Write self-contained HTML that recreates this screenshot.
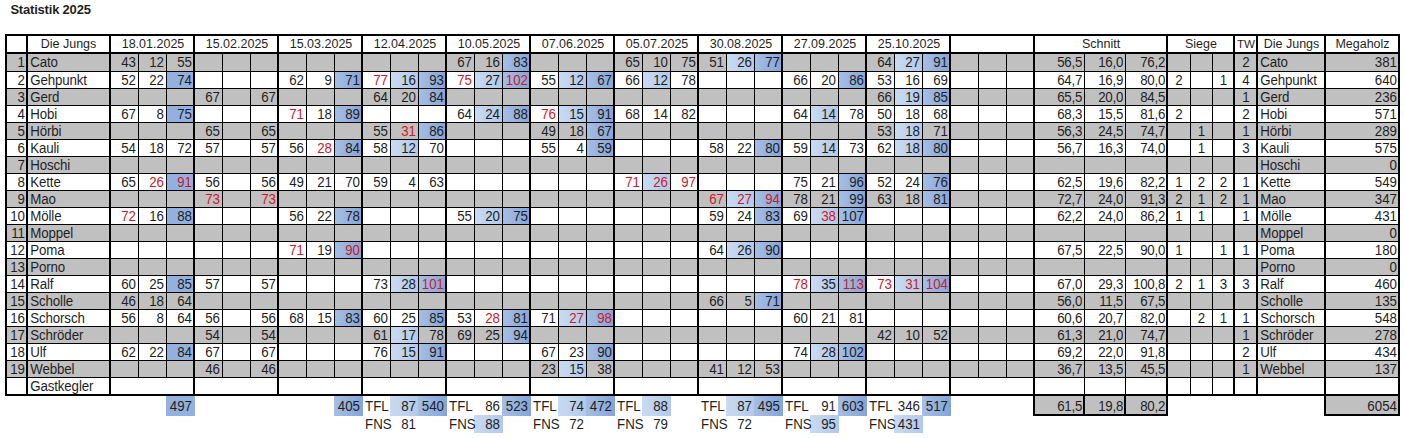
<!DOCTYPE html>
<html lang="de"><head><meta charset="utf-8"><title>Statistik 2025</title>
<style>
html,body{margin:0;padding:0;background:#fff}
body{width:1404px;height:438px;overflow:hidden;position:relative;font-family:"Liberation Sans",sans-serif;font-size:13.33px;color:#1f1f1f}
#s{position:absolute;left:0;top:0;width:1404px;height:438px;overflow:hidden}
#s div{position:absolute}
.g{background:#c0c0c0}
.bf{background:#93b1df}
.b{background:linear-gradient(90deg,#a5bee4,#84a4d7)}
.l{background:linear-gradient(90deg,#c9dbf2,#b2c9e9)}
.k{background:#000}
.t{white-space:nowrap;overflow:visible;transform:scaleY(1.06);transform-origin:0 13px}
.t.ar{text-align:right}
.t.ac{text-align:center}
.t.al{text-align:left}
.t.h{text-align:center;font-size:12.5px;transform:none}
.n{letter-spacing:-0.15px;padding-left:0.3px}
.d{letter-spacing:-0.3px}
.red{color:#cf1a28}
#ttl{left:10.4px;top:1px;height:18px;line-height:18px;font-weight:bold;font-size:13px;letter-spacing:-0.2px;white-space:nowrap}
</style></head>
<body><div id="s">
<div id="ttl">Statistik 2025</div>
<div class="g" style="left:7px;top:54px;width:1391px;height:18px"></div>
<div class="g" style="left:7px;top:89px;width:1391px;height:17px"></div>
<div class="g" style="left:7px;top:123px;width:1391px;height:17px"></div>
<div class="g" style="left:7px;top:157px;width:1391px;height:17px"></div>
<div class="g" style="left:7px;top:191px;width:1391px;height:17px"></div>
<div class="g" style="left:7px;top:225px;width:1391px;height:17px"></div>
<div class="g" style="left:7px;top:259px;width:1391px;height:17px"></div>
<div class="g" style="left:7px;top:293px;width:1391px;height:17px"></div>
<div class="g" style="left:7px;top:327px;width:1391px;height:17px"></div>
<div class="g" style="left:7px;top:361px;width:1391px;height:17px"></div>
<div class="bf" style="left:167px;top:72px;width:28px;height:17px"></div>
<div class="bf" style="left:167px;top:106px;width:28px;height:17px"></div>
<div class="bf" style="left:167px;top:174px;width:28px;height:17px"></div>
<div class="bf" style="left:167px;top:208px;width:28px;height:17px"></div>
<div class="bf" style="left:167px;top:276px;width:28px;height:17px"></div>
<div class="bf" style="left:167px;top:344px;width:28px;height:17px"></div>
<div class="bf" style="left:166px;top:396px;width:29px;height:20px"></div>
<div class="b" style="left:335px;top:72px;width:28px;height:17px"></div>
<div class="b" style="left:335px;top:106px;width:28px;height:17px"></div>
<div class="b" style="left:335px;top:140px;width:28px;height:17px"></div>
<div class="b" style="left:335px;top:208px;width:28px;height:17px"></div>
<div class="b" style="left:335px;top:242px;width:28px;height:17px"></div>
<div class="b" style="left:335px;top:310px;width:28px;height:17px"></div>
<div class="b" style="left:334px;top:396px;width:29px;height:20px"></div>
<div class="l" style="left:391px;top:72px;width:28px;height:17px"></div>
<div class="b" style="left:419px;top:72px;width:28px;height:17px"></div>
<div class="b" style="left:419px;top:89px;width:28px;height:17px"></div>
<div class="b" style="left:419px;top:123px;width:28px;height:17px"></div>
<div class="l" style="left:391px;top:140px;width:28px;height:17px"></div>
<div class="l" style="left:391px;top:276px;width:28px;height:17px"></div>
<div class="b" style="left:419px;top:276px;width:28px;height:17px"></div>
<div class="b" style="left:419px;top:310px;width:28px;height:17px"></div>
<div class="l" style="left:391px;top:327px;width:28px;height:17px"></div>
<div class="l" style="left:391px;top:344px;width:28px;height:17px"></div>
<div class="b" style="left:419px;top:344px;width:28px;height:17px"></div>
<div class="l" style="left:390px;top:396px;width:29px;height:20px"></div>
<div class="b" style="left:418px;top:396px;width:29px;height:20px"></div>
<div class="b" style="left:503px;top:54px;width:28px;height:18px"></div>
<div class="l" style="left:475px;top:72px;width:28px;height:17px"></div>
<div class="b" style="left:503px;top:72px;width:28px;height:17px"></div>
<div class="l" style="left:475px;top:106px;width:28px;height:17px"></div>
<div class="b" style="left:503px;top:106px;width:28px;height:17px"></div>
<div class="l" style="left:475px;top:208px;width:28px;height:17px"></div>
<div class="b" style="left:503px;top:208px;width:28px;height:17px"></div>
<div class="b" style="left:503px;top:310px;width:28px;height:17px"></div>
<div class="b" style="left:503px;top:327px;width:28px;height:17px"></div>
<div class="b" style="left:502px;top:396px;width:29px;height:20px"></div>
<div class="l" style="left:474px;top:415px;width:29px;height:18px"></div>
<div class="l" style="left:559px;top:72px;width:28px;height:17px"></div>
<div class="b" style="left:587px;top:72px;width:28px;height:17px"></div>
<div class="l" style="left:559px;top:106px;width:28px;height:17px"></div>
<div class="b" style="left:587px;top:106px;width:28px;height:17px"></div>
<div class="b" style="left:587px;top:123px;width:28px;height:17px"></div>
<div class="b" style="left:587px;top:140px;width:28px;height:17px"></div>
<div class="l" style="left:559px;top:310px;width:28px;height:17px"></div>
<div class="b" style="left:587px;top:310px;width:28px;height:17px"></div>
<div class="b" style="left:587px;top:344px;width:28px;height:17px"></div>
<div class="l" style="left:559px;top:361px;width:28px;height:17px"></div>
<div class="l" style="left:558px;top:396px;width:29px;height:20px"></div>
<div class="b" style="left:586px;top:396px;width:29px;height:20px"></div>
<div class="l" style="left:643px;top:72px;width:28px;height:17px"></div>
<div class="l" style="left:643px;top:174px;width:28px;height:17px"></div>
<div class="l" style="left:642px;top:396px;width:29px;height:20px"></div>
<div class="l" style="left:727px;top:54px;width:28px;height:18px"></div>
<div class="b" style="left:755px;top:54px;width:28px;height:18px"></div>
<div class="b" style="left:755px;top:140px;width:28px;height:17px"></div>
<div class="l" style="left:727px;top:191px;width:28px;height:17px"></div>
<div class="b" style="left:755px;top:191px;width:28px;height:17px"></div>
<div class="b" style="left:755px;top:208px;width:28px;height:17px"></div>
<div class="l" style="left:727px;top:242px;width:28px;height:17px"></div>
<div class="b" style="left:755px;top:242px;width:28px;height:17px"></div>
<div class="b" style="left:755px;top:293px;width:28px;height:17px"></div>
<div class="l" style="left:726px;top:396px;width:29px;height:20px"></div>
<div class="b" style="left:754px;top:396px;width:29px;height:20px"></div>
<div class="b" style="left:839px;top:72px;width:28px;height:17px"></div>
<div class="l" style="left:811px;top:106px;width:28px;height:17px"></div>
<div class="l" style="left:811px;top:140px;width:28px;height:17px"></div>
<div class="b" style="left:839px;top:174px;width:28px;height:17px"></div>
<div class="b" style="left:839px;top:191px;width:28px;height:17px"></div>
<div class="l" style="left:811px;top:208px;width:28px;height:17px"></div>
<div class="b" style="left:839px;top:208px;width:28px;height:17px"></div>
<div class="l" style="left:811px;top:276px;width:28px;height:17px"></div>
<div class="b" style="left:839px;top:276px;width:28px;height:17px"></div>
<div class="l" style="left:811px;top:344px;width:28px;height:17px"></div>
<div class="b" style="left:839px;top:344px;width:28px;height:17px"></div>
<div class="b" style="left:838px;top:396px;width:29px;height:20px"></div>
<div class="l" style="left:810px;top:415px;width:29px;height:18px"></div>
<div class="l" style="left:895px;top:54px;width:28px;height:18px"></div>
<div class="b" style="left:923px;top:54px;width:28px;height:18px"></div>
<div class="l" style="left:895px;top:89px;width:28px;height:17px"></div>
<div class="b" style="left:923px;top:89px;width:28px;height:17px"></div>
<div class="l" style="left:895px;top:123px;width:28px;height:17px"></div>
<div class="l" style="left:895px;top:140px;width:28px;height:17px"></div>
<div class="b" style="left:923px;top:140px;width:28px;height:17px"></div>
<div class="b" style="left:923px;top:174px;width:28px;height:17px"></div>
<div class="b" style="left:923px;top:191px;width:28px;height:17px"></div>
<div class="l" style="left:895px;top:276px;width:28px;height:17px"></div>
<div class="b" style="left:923px;top:276px;width:28px;height:17px"></div>
<div class="b" style="left:922px;top:396px;width:29px;height:20px"></div>
<div class="l" style="left:894px;top:415px;width:29px;height:18px"></div>
<div class="g" style="left:1035px;top:396px;width:131px;height:18px"></div>
<div class="g" style="left:1326px;top:396px;width:72px;height:18px"></div>
<div class="k" style="left:7px;top:71px;width:1391px;height:1px"></div>
<div class="k" style="left:7px;top:88px;width:1391px;height:1px"></div>
<div class="k" style="left:7px;top:105px;width:1391px;height:1px"></div>
<div class="k" style="left:7px;top:122px;width:1391px;height:1px"></div>
<div class="k" style="left:7px;top:139px;width:1391px;height:1px"></div>
<div class="k" style="left:7px;top:156px;width:1391px;height:1px"></div>
<div class="k" style="left:7px;top:173px;width:1391px;height:1px"></div>
<div class="k" style="left:7px;top:190px;width:1391px;height:1px"></div>
<div class="k" style="left:7px;top:207px;width:1391px;height:1px"></div>
<div class="k" style="left:7px;top:224px;width:1391px;height:1px"></div>
<div class="k" style="left:7px;top:241px;width:1391px;height:1px"></div>
<div class="k" style="left:7px;top:258px;width:1391px;height:1px"></div>
<div class="k" style="left:7px;top:275px;width:1391px;height:1px"></div>
<div class="k" style="left:7px;top:292px;width:1391px;height:1px"></div>
<div class="k" style="left:7px;top:309px;width:1391px;height:1px"></div>
<div class="k" style="left:7px;top:326px;width:1391px;height:1px"></div>
<div class="k" style="left:7px;top:343px;width:1391px;height:1px"></div>
<div class="k" style="left:7px;top:360px;width:1391px;height:1px"></div>
<div class="k" style="left:7px;top:377px;width:1391px;height:1px"></div>
<div class="k" style="left:5px;top:34px;width:1395px;height:2px"></div>
<div class="k" style="left:5px;top:52px;width:1395px;height:2px"></div>
<div class="k" style="left:5px;top:394px;width:1395px;height:2px"></div>
<div class="k" style="left:1033px;top:414px;width:135px;height:2px"></div>
<div class="k" style="left:1324px;top:414px;width:76px;height:2px"></div>
<div class="k" style="left:5px;top:34px;width:2px;height:362px"></div>
<div class="k" style="left:26px;top:34px;width:2px;height:362px"></div>
<div class="k" style="left:109px;top:34px;width:2px;height:362px"></div>
<div class="k" style="left:193px;top:34px;width:2px;height:362px"></div>
<div class="k" style="left:277px;top:34px;width:2px;height:362px"></div>
<div class="k" style="left:361px;top:34px;width:2px;height:362px"></div>
<div class="k" style="left:445px;top:34px;width:2px;height:362px"></div>
<div class="k" style="left:529px;top:34px;width:2px;height:362px"></div>
<div class="k" style="left:613px;top:34px;width:2px;height:362px"></div>
<div class="k" style="left:697px;top:34px;width:2px;height:362px"></div>
<div class="k" style="left:781px;top:34px;width:2px;height:362px"></div>
<div class="k" style="left:865px;top:34px;width:2px;height:362px"></div>
<div class="k" style="left:949px;top:34px;width:2px;height:362px"></div>
<div class="k" style="left:1033px;top:34px;width:2px;height:382px"></div>
<div class="k" style="left:1166px;top:34px;width:2px;height:382px"></div>
<div class="k" style="left:1233px;top:34px;width:2px;height:362px"></div>
<div class="k" style="left:1256px;top:34px;width:2px;height:362px"></div>
<div class="k" style="left:1324px;top:34px;width:2px;height:382px"></div>
<div class="k" style="left:1398px;top:34px;width:2px;height:382px"></div>
<div class="k" style="left:1083px;top:396px;width:2px;height:20px"></div>
<div class="k" style="left:1124px;top:396px;width:2px;height:20px"></div>
<div class="k" style="left:138px;top:54px;width:1px;height:324px"></div>
<div class="k" style="left:166px;top:54px;width:1px;height:324px"></div>
<div class="k" style="left:222px;top:54px;width:1px;height:324px"></div>
<div class="k" style="left:250px;top:54px;width:1px;height:324px"></div>
<div class="k" style="left:306px;top:54px;width:1px;height:324px"></div>
<div class="k" style="left:334px;top:54px;width:1px;height:324px"></div>
<div class="k" style="left:390px;top:54px;width:1px;height:324px"></div>
<div class="k" style="left:418px;top:54px;width:1px;height:324px"></div>
<div class="k" style="left:474px;top:54px;width:1px;height:324px"></div>
<div class="k" style="left:502px;top:54px;width:1px;height:324px"></div>
<div class="k" style="left:558px;top:54px;width:1px;height:324px"></div>
<div class="k" style="left:586px;top:54px;width:1px;height:324px"></div>
<div class="k" style="left:642px;top:54px;width:1px;height:324px"></div>
<div class="k" style="left:670px;top:54px;width:1px;height:324px"></div>
<div class="k" style="left:726px;top:54px;width:1px;height:324px"></div>
<div class="k" style="left:754px;top:54px;width:1px;height:324px"></div>
<div class="k" style="left:810px;top:54px;width:1px;height:324px"></div>
<div class="k" style="left:838px;top:54px;width:1px;height:324px"></div>
<div class="k" style="left:894px;top:54px;width:1px;height:324px"></div>
<div class="k" style="left:922px;top:54px;width:1px;height:324px"></div>
<div class="k" style="left:978px;top:54px;width:1px;height:324px"></div>
<div class="k" style="left:1006px;top:54px;width:1px;height:324px"></div>
<div class="k" style="left:1084px;top:54px;width:1px;height:340px"></div>
<div class="k" style="left:1125px;top:54px;width:1px;height:340px"></div>
<div class="k" style="left:1190px;top:54px;width:1px;height:340px"></div>
<div class="k" style="left:1212px;top:54px;width:1px;height:340px"></div>
<div class="t ar" style="left:111px;top:54px;width:25px;height:18px;line-height:18px">43</div>
<div class="t ar" style="left:139px;top:54px;width:25px;height:18px;line-height:18px">12</div>
<div class="t ar" style="left:167px;top:54px;width:25px;height:18px;line-height:18px">55</div>
<div class="t ar" style="left:111px;top:72px;width:25px;height:17px;line-height:17px">52</div>
<div class="t ar" style="left:139px;top:72px;width:25px;height:17px;line-height:17px">22</div>
<div class="t ar" style="left:167px;top:72px;width:25px;height:17px;line-height:17px">74</div>
<div class="t ar" style="left:111px;top:106px;width:25px;height:17px;line-height:17px">67</div>
<div class="t ar" style="left:139px;top:106px;width:25px;height:17px;line-height:17px">8</div>
<div class="t ar" style="left:167px;top:106px;width:25px;height:17px;line-height:17px">75</div>
<div class="t ar" style="left:111px;top:140px;width:25px;height:17px;line-height:17px">54</div>
<div class="t ar" style="left:139px;top:140px;width:25px;height:17px;line-height:17px">18</div>
<div class="t ar" style="left:167px;top:140px;width:25px;height:17px;line-height:17px">72</div>
<div class="t ar" style="left:111px;top:174px;width:25px;height:17px;line-height:17px">65</div>
<div class="t ar red" style="left:139px;top:174px;width:25px;height:17px;line-height:17px">26</div>
<div class="t ar red" style="left:167px;top:174px;width:25px;height:17px;line-height:17px">91</div>
<div class="t ar red" style="left:111px;top:208px;width:25px;height:17px;line-height:17px">72</div>
<div class="t ar" style="left:139px;top:208px;width:25px;height:17px;line-height:17px">16</div>
<div class="t ar" style="left:167px;top:208px;width:25px;height:17px;line-height:17px">88</div>
<div class="t ar" style="left:111px;top:276px;width:25px;height:17px;line-height:17px">60</div>
<div class="t ar" style="left:139px;top:276px;width:25px;height:17px;line-height:17px">25</div>
<div class="t ar" style="left:167px;top:276px;width:25px;height:17px;line-height:17px">85</div>
<div class="t ar" style="left:111px;top:293px;width:25px;height:17px;line-height:17px">46</div>
<div class="t ar" style="left:139px;top:293px;width:25px;height:17px;line-height:17px">18</div>
<div class="t ar" style="left:167px;top:293px;width:25px;height:17px;line-height:17px">64</div>
<div class="t ar" style="left:111px;top:310px;width:25px;height:17px;line-height:17px">56</div>
<div class="t ar" style="left:139px;top:310px;width:25px;height:17px;line-height:17px">8</div>
<div class="t ar" style="left:167px;top:310px;width:25px;height:17px;line-height:17px">64</div>
<div class="t ar" style="left:111px;top:344px;width:25px;height:17px;line-height:17px">62</div>
<div class="t ar" style="left:139px;top:344px;width:25px;height:17px;line-height:17px">22</div>
<div class="t ar" style="left:167px;top:344px;width:25px;height:17px;line-height:17px">84</div>
<div class="t ar" style="left:167px;top:397px;width:25px;height:20px;line-height:20px">497</div>
<div class="t ar" style="left:195px;top:89px;width:25px;height:17px;line-height:17px">67</div>
<div class="t ar" style="left:251px;top:89px;width:25px;height:17px;line-height:17px">67</div>
<div class="t ar" style="left:195px;top:123px;width:25px;height:17px;line-height:17px">65</div>
<div class="t ar" style="left:251px;top:123px;width:25px;height:17px;line-height:17px">65</div>
<div class="t ar" style="left:195px;top:140px;width:25px;height:17px;line-height:17px">57</div>
<div class="t ar" style="left:251px;top:140px;width:25px;height:17px;line-height:17px">57</div>
<div class="t ar" style="left:195px;top:174px;width:25px;height:17px;line-height:17px">56</div>
<div class="t ar" style="left:251px;top:174px;width:25px;height:17px;line-height:17px">56</div>
<div class="t ar red" style="left:195px;top:191px;width:25px;height:17px;line-height:17px">73</div>
<div class="t ar red" style="left:251px;top:191px;width:25px;height:17px;line-height:17px">73</div>
<div class="t ar" style="left:195px;top:276px;width:25px;height:17px;line-height:17px">57</div>
<div class="t ar" style="left:251px;top:276px;width:25px;height:17px;line-height:17px">57</div>
<div class="t ar" style="left:195px;top:310px;width:25px;height:17px;line-height:17px">56</div>
<div class="t ar" style="left:251px;top:310px;width:25px;height:17px;line-height:17px">56</div>
<div class="t ar" style="left:195px;top:327px;width:25px;height:17px;line-height:17px">54</div>
<div class="t ar" style="left:251px;top:327px;width:25px;height:17px;line-height:17px">54</div>
<div class="t ar" style="left:195px;top:344px;width:25px;height:17px;line-height:17px">67</div>
<div class="t ar" style="left:251px;top:344px;width:25px;height:17px;line-height:17px">67</div>
<div class="t ar" style="left:195px;top:361px;width:25px;height:17px;line-height:17px">46</div>
<div class="t ar" style="left:251px;top:361px;width:25px;height:17px;line-height:17px">46</div>
<div class="t ar" style="left:279px;top:72px;width:25px;height:17px;line-height:17px">62</div>
<div class="t ar" style="left:307px;top:72px;width:25px;height:17px;line-height:17px">9</div>
<div class="t ar" style="left:335px;top:72px;width:25px;height:17px;line-height:17px">71</div>
<div class="t ar red" style="left:279px;top:106px;width:25px;height:17px;line-height:17px">71</div>
<div class="t ar" style="left:307px;top:106px;width:25px;height:17px;line-height:17px">18</div>
<div class="t ar" style="left:335px;top:106px;width:25px;height:17px;line-height:17px">89</div>
<div class="t ar" style="left:279px;top:140px;width:25px;height:17px;line-height:17px">56</div>
<div class="t ar red" style="left:307px;top:140px;width:25px;height:17px;line-height:17px">28</div>
<div class="t ar" style="left:335px;top:140px;width:25px;height:17px;line-height:17px">84</div>
<div class="t ar" style="left:279px;top:174px;width:25px;height:17px;line-height:17px">49</div>
<div class="t ar" style="left:307px;top:174px;width:25px;height:17px;line-height:17px">21</div>
<div class="t ar" style="left:335px;top:174px;width:25px;height:17px;line-height:17px">70</div>
<div class="t ar" style="left:279px;top:208px;width:25px;height:17px;line-height:17px">56</div>
<div class="t ar" style="left:307px;top:208px;width:25px;height:17px;line-height:17px">22</div>
<div class="t ar" style="left:335px;top:208px;width:25px;height:17px;line-height:17px">78</div>
<div class="t ar red" style="left:279px;top:242px;width:25px;height:17px;line-height:17px">71</div>
<div class="t ar" style="left:307px;top:242px;width:25px;height:17px;line-height:17px">19</div>
<div class="t ar red" style="left:335px;top:242px;width:25px;height:17px;line-height:17px">90</div>
<div class="t ar" style="left:279px;top:310px;width:25px;height:17px;line-height:17px">68</div>
<div class="t ar" style="left:307px;top:310px;width:25px;height:17px;line-height:17px">15</div>
<div class="t ar" style="left:335px;top:310px;width:25px;height:17px;line-height:17px">83</div>
<div class="t ar" style="left:335px;top:397px;width:25px;height:20px;line-height:20px">405</div>
<div class="t ar red" style="left:363px;top:72px;width:25px;height:17px;line-height:17px">77</div>
<div class="t ar" style="left:391px;top:72px;width:25px;height:17px;line-height:17px">16</div>
<div class="t ar" style="left:419px;top:72px;width:25px;height:17px;line-height:17px">93</div>
<div class="t ar" style="left:363px;top:89px;width:25px;height:17px;line-height:17px">64</div>
<div class="t ar" style="left:391px;top:89px;width:25px;height:17px;line-height:17px">20</div>
<div class="t ar" style="left:419px;top:89px;width:25px;height:17px;line-height:17px">84</div>
<div class="t ar" style="left:363px;top:123px;width:25px;height:17px;line-height:17px">55</div>
<div class="t ar red" style="left:391px;top:123px;width:25px;height:17px;line-height:17px">31</div>
<div class="t ar" style="left:419px;top:123px;width:25px;height:17px;line-height:17px">86</div>
<div class="t ar" style="left:363px;top:140px;width:25px;height:17px;line-height:17px">58</div>
<div class="t ar" style="left:391px;top:140px;width:25px;height:17px;line-height:17px">12</div>
<div class="t ar" style="left:419px;top:140px;width:25px;height:17px;line-height:17px">70</div>
<div class="t ar" style="left:363px;top:174px;width:25px;height:17px;line-height:17px">59</div>
<div class="t ar" style="left:391px;top:174px;width:25px;height:17px;line-height:17px">4</div>
<div class="t ar" style="left:419px;top:174px;width:25px;height:17px;line-height:17px">63</div>
<div class="t ar" style="left:363px;top:276px;width:25px;height:17px;line-height:17px">73</div>
<div class="t ar" style="left:391px;top:276px;width:25px;height:17px;line-height:17px">28</div>
<div class="t ar red" style="left:419px;top:276px;width:25px;height:17px;line-height:17px">101</div>
<div class="t ar" style="left:363px;top:310px;width:25px;height:17px;line-height:17px">60</div>
<div class="t ar" style="left:391px;top:310px;width:25px;height:17px;line-height:17px">25</div>
<div class="t ar" style="left:419px;top:310px;width:25px;height:17px;line-height:17px">85</div>
<div class="t ar" style="left:363px;top:327px;width:25px;height:17px;line-height:17px">61</div>
<div class="t ar" style="left:391px;top:327px;width:25px;height:17px;line-height:17px">17</div>
<div class="t ar" style="left:419px;top:327px;width:25px;height:17px;line-height:17px">78</div>
<div class="t ar" style="left:363px;top:344px;width:25px;height:17px;line-height:17px">76</div>
<div class="t ar" style="left:391px;top:344px;width:25px;height:17px;line-height:17px">15</div>
<div class="t ar" style="left:419px;top:344px;width:25px;height:17px;line-height:17px">91</div>
<div class="t al" style="left:365px;top:397px;width:26px;height:20px;line-height:20px">TFL</div>
<div class="t ar" style="left:391px;top:397px;width:25px;height:20px;line-height:20px">87</div>
<div class="t ar" style="left:419px;top:397px;width:25px;height:20px;line-height:20px">540</div>
<div class="t al" style="left:365px;top:416px;width:26px;height:17px;line-height:17px">FNS</div>
<div class="t ar" style="left:391px;top:416px;width:25px;height:18px;line-height:18px">81</div>
<div class="t ar" style="left:447px;top:54px;width:25px;height:18px;line-height:18px">67</div>
<div class="t ar" style="left:475px;top:54px;width:25px;height:18px;line-height:18px">16</div>
<div class="t ar" style="left:503px;top:54px;width:25px;height:18px;line-height:18px">83</div>
<div class="t ar red" style="left:447px;top:72px;width:25px;height:17px;line-height:17px">75</div>
<div class="t ar" style="left:475px;top:72px;width:25px;height:17px;line-height:17px">27</div>
<div class="t ar red" style="left:503px;top:72px;width:25px;height:17px;line-height:17px">102</div>
<div class="t ar" style="left:447px;top:106px;width:25px;height:17px;line-height:17px">64</div>
<div class="t ar" style="left:475px;top:106px;width:25px;height:17px;line-height:17px">24</div>
<div class="t ar" style="left:503px;top:106px;width:25px;height:17px;line-height:17px">88</div>
<div class="t ar" style="left:447px;top:208px;width:25px;height:17px;line-height:17px">55</div>
<div class="t ar" style="left:475px;top:208px;width:25px;height:17px;line-height:17px">20</div>
<div class="t ar" style="left:503px;top:208px;width:25px;height:17px;line-height:17px">75</div>
<div class="t ar" style="left:447px;top:310px;width:25px;height:17px;line-height:17px">53</div>
<div class="t ar red" style="left:475px;top:310px;width:25px;height:17px;line-height:17px">28</div>
<div class="t ar" style="left:503px;top:310px;width:25px;height:17px;line-height:17px">81</div>
<div class="t ar" style="left:447px;top:327px;width:25px;height:17px;line-height:17px">69</div>
<div class="t ar" style="left:475px;top:327px;width:25px;height:17px;line-height:17px">25</div>
<div class="t ar" style="left:503px;top:327px;width:25px;height:17px;line-height:17px">94</div>
<div class="t al" style="left:449px;top:397px;width:26px;height:20px;line-height:20px">TFL</div>
<div class="t ar" style="left:475px;top:397px;width:25px;height:20px;line-height:20px">86</div>
<div class="t ar" style="left:503px;top:397px;width:25px;height:20px;line-height:20px">523</div>
<div class="t al" style="left:449px;top:416px;width:26px;height:17px;line-height:17px">FNS</div>
<div class="t ar" style="left:475px;top:416px;width:25px;height:18px;line-height:18px">88</div>
<div class="t ar" style="left:531px;top:72px;width:25px;height:17px;line-height:17px">55</div>
<div class="t ar" style="left:559px;top:72px;width:25px;height:17px;line-height:17px">12</div>
<div class="t ar" style="left:587px;top:72px;width:25px;height:17px;line-height:17px">67</div>
<div class="t ar red" style="left:531px;top:106px;width:25px;height:17px;line-height:17px">76</div>
<div class="t ar" style="left:559px;top:106px;width:25px;height:17px;line-height:17px">15</div>
<div class="t ar" style="left:587px;top:106px;width:25px;height:17px;line-height:17px">91</div>
<div class="t ar" style="left:531px;top:123px;width:25px;height:17px;line-height:17px">49</div>
<div class="t ar" style="left:559px;top:123px;width:25px;height:17px;line-height:17px">18</div>
<div class="t ar" style="left:587px;top:123px;width:25px;height:17px;line-height:17px">67</div>
<div class="t ar" style="left:531px;top:140px;width:25px;height:17px;line-height:17px">55</div>
<div class="t ar" style="left:559px;top:140px;width:25px;height:17px;line-height:17px">4</div>
<div class="t ar" style="left:587px;top:140px;width:25px;height:17px;line-height:17px">59</div>
<div class="t ar" style="left:531px;top:310px;width:25px;height:17px;line-height:17px">71</div>
<div class="t ar red" style="left:559px;top:310px;width:25px;height:17px;line-height:17px">27</div>
<div class="t ar red" style="left:587px;top:310px;width:25px;height:17px;line-height:17px">98</div>
<div class="t ar" style="left:531px;top:344px;width:25px;height:17px;line-height:17px">67</div>
<div class="t ar" style="left:559px;top:344px;width:25px;height:17px;line-height:17px">23</div>
<div class="t ar" style="left:587px;top:344px;width:25px;height:17px;line-height:17px">90</div>
<div class="t ar" style="left:531px;top:361px;width:25px;height:17px;line-height:17px">23</div>
<div class="t ar" style="left:559px;top:361px;width:25px;height:17px;line-height:17px">15</div>
<div class="t ar" style="left:587px;top:361px;width:25px;height:17px;line-height:17px">38</div>
<div class="t al" style="left:533px;top:397px;width:26px;height:20px;line-height:20px">TFL</div>
<div class="t ar" style="left:559px;top:397px;width:25px;height:20px;line-height:20px">74</div>
<div class="t ar" style="left:587px;top:397px;width:25px;height:20px;line-height:20px">472</div>
<div class="t al" style="left:533px;top:416px;width:26px;height:17px;line-height:17px">FNS</div>
<div class="t ar" style="left:559px;top:416px;width:25px;height:18px;line-height:18px">72</div>
<div class="t ar" style="left:615px;top:54px;width:25px;height:18px;line-height:18px">65</div>
<div class="t ar" style="left:643px;top:54px;width:25px;height:18px;line-height:18px">10</div>
<div class="t ar" style="left:671px;top:54px;width:25px;height:18px;line-height:18px">75</div>
<div class="t ar" style="left:615px;top:72px;width:25px;height:17px;line-height:17px">66</div>
<div class="t ar" style="left:643px;top:72px;width:25px;height:17px;line-height:17px">12</div>
<div class="t ar" style="left:671px;top:72px;width:25px;height:17px;line-height:17px">78</div>
<div class="t ar" style="left:615px;top:106px;width:25px;height:17px;line-height:17px">68</div>
<div class="t ar" style="left:643px;top:106px;width:25px;height:17px;line-height:17px">14</div>
<div class="t ar" style="left:671px;top:106px;width:25px;height:17px;line-height:17px">82</div>
<div class="t ar red" style="left:615px;top:174px;width:25px;height:17px;line-height:17px">71</div>
<div class="t ar red" style="left:643px;top:174px;width:25px;height:17px;line-height:17px">26</div>
<div class="t ar red" style="left:671px;top:174px;width:25px;height:17px;line-height:17px">97</div>
<div class="t al" style="left:617px;top:397px;width:26px;height:20px;line-height:20px">TFL</div>
<div class="t ar" style="left:643px;top:397px;width:25px;height:20px;line-height:20px">88</div>
<div class="t al" style="left:617px;top:416px;width:26px;height:17px;line-height:17px">FNS</div>
<div class="t ar" style="left:643px;top:416px;width:25px;height:18px;line-height:18px">79</div>
<div class="t ar" style="left:699px;top:54px;width:25px;height:18px;line-height:18px">51</div>
<div class="t ar" style="left:727px;top:54px;width:25px;height:18px;line-height:18px">26</div>
<div class="t ar" style="left:755px;top:54px;width:25px;height:18px;line-height:18px">77</div>
<div class="t ar" style="left:699px;top:140px;width:25px;height:17px;line-height:17px">58</div>
<div class="t ar" style="left:727px;top:140px;width:25px;height:17px;line-height:17px">22</div>
<div class="t ar" style="left:755px;top:140px;width:25px;height:17px;line-height:17px">80</div>
<div class="t ar red" style="left:699px;top:191px;width:25px;height:17px;line-height:17px">67</div>
<div class="t ar red" style="left:727px;top:191px;width:25px;height:17px;line-height:17px">27</div>
<div class="t ar red" style="left:755px;top:191px;width:25px;height:17px;line-height:17px">94</div>
<div class="t ar" style="left:699px;top:208px;width:25px;height:17px;line-height:17px">59</div>
<div class="t ar" style="left:727px;top:208px;width:25px;height:17px;line-height:17px">24</div>
<div class="t ar" style="left:755px;top:208px;width:25px;height:17px;line-height:17px">83</div>
<div class="t ar" style="left:699px;top:242px;width:25px;height:17px;line-height:17px">64</div>
<div class="t ar" style="left:727px;top:242px;width:25px;height:17px;line-height:17px">26</div>
<div class="t ar" style="left:755px;top:242px;width:25px;height:17px;line-height:17px">90</div>
<div class="t ar" style="left:699px;top:293px;width:25px;height:17px;line-height:17px">66</div>
<div class="t ar" style="left:727px;top:293px;width:25px;height:17px;line-height:17px">5</div>
<div class="t ar" style="left:755px;top:293px;width:25px;height:17px;line-height:17px">71</div>
<div class="t ar" style="left:699px;top:361px;width:25px;height:17px;line-height:17px">41</div>
<div class="t ar" style="left:727px;top:361px;width:25px;height:17px;line-height:17px">12</div>
<div class="t ar" style="left:755px;top:361px;width:25px;height:17px;line-height:17px">53</div>
<div class="t al" style="left:701px;top:397px;width:26px;height:20px;line-height:20px">TFL</div>
<div class="t ar" style="left:727px;top:397px;width:25px;height:20px;line-height:20px">87</div>
<div class="t ar" style="left:755px;top:397px;width:25px;height:20px;line-height:20px">495</div>
<div class="t al" style="left:701px;top:416px;width:26px;height:17px;line-height:17px">FNS</div>
<div class="t ar" style="left:727px;top:416px;width:25px;height:18px;line-height:18px">72</div>
<div class="t ar" style="left:783px;top:72px;width:25px;height:17px;line-height:17px">66</div>
<div class="t ar" style="left:811px;top:72px;width:25px;height:17px;line-height:17px">20</div>
<div class="t ar" style="left:839px;top:72px;width:25px;height:17px;line-height:17px">86</div>
<div class="t ar" style="left:783px;top:106px;width:25px;height:17px;line-height:17px">64</div>
<div class="t ar" style="left:811px;top:106px;width:25px;height:17px;line-height:17px">14</div>
<div class="t ar" style="left:839px;top:106px;width:25px;height:17px;line-height:17px">78</div>
<div class="t ar" style="left:783px;top:140px;width:25px;height:17px;line-height:17px">59</div>
<div class="t ar" style="left:811px;top:140px;width:25px;height:17px;line-height:17px">14</div>
<div class="t ar" style="left:839px;top:140px;width:25px;height:17px;line-height:17px">73</div>
<div class="t ar" style="left:783px;top:174px;width:25px;height:17px;line-height:17px">75</div>
<div class="t ar" style="left:811px;top:174px;width:25px;height:17px;line-height:17px">21</div>
<div class="t ar" style="left:839px;top:174px;width:25px;height:17px;line-height:17px">96</div>
<div class="t ar" style="left:783px;top:191px;width:25px;height:17px;line-height:17px">78</div>
<div class="t ar" style="left:811px;top:191px;width:25px;height:17px;line-height:17px">21</div>
<div class="t ar" style="left:839px;top:191px;width:25px;height:17px;line-height:17px">99</div>
<div class="t ar" style="left:783px;top:208px;width:25px;height:17px;line-height:17px">69</div>
<div class="t ar red" style="left:811px;top:208px;width:25px;height:17px;line-height:17px">38</div>
<div class="t ar" style="left:839px;top:208px;width:25px;height:17px;line-height:17px">107</div>
<div class="t ar red" style="left:783px;top:276px;width:25px;height:17px;line-height:17px">78</div>
<div class="t ar" style="left:811px;top:276px;width:25px;height:17px;line-height:17px">35</div>
<div class="t ar red" style="left:839px;top:276px;width:25px;height:17px;line-height:17px">113</div>
<div class="t ar" style="left:783px;top:310px;width:25px;height:17px;line-height:17px">60</div>
<div class="t ar" style="left:811px;top:310px;width:25px;height:17px;line-height:17px">21</div>
<div class="t ar" style="left:839px;top:310px;width:25px;height:17px;line-height:17px">81</div>
<div class="t ar" style="left:783px;top:344px;width:25px;height:17px;line-height:17px">74</div>
<div class="t ar" style="left:811px;top:344px;width:25px;height:17px;line-height:17px">28</div>
<div class="t ar" style="left:839px;top:344px;width:25px;height:17px;line-height:17px">102</div>
<div class="t al" style="left:785px;top:397px;width:26px;height:20px;line-height:20px">TFL</div>
<div class="t ar" style="left:811px;top:397px;width:25px;height:20px;line-height:20px">91</div>
<div class="t ar" style="left:839px;top:397px;width:25px;height:20px;line-height:20px">603</div>
<div class="t al" style="left:785px;top:416px;width:26px;height:17px;line-height:17px">FNS</div>
<div class="t ar" style="left:811px;top:416px;width:25px;height:18px;line-height:18px">95</div>
<div class="t ar" style="left:867px;top:54px;width:25px;height:18px;line-height:18px">64</div>
<div class="t ar" style="left:895px;top:54px;width:25px;height:18px;line-height:18px">27</div>
<div class="t ar" style="left:923px;top:54px;width:25px;height:18px;line-height:18px">91</div>
<div class="t ar" style="left:867px;top:72px;width:25px;height:17px;line-height:17px">53</div>
<div class="t ar" style="left:895px;top:72px;width:25px;height:17px;line-height:17px">16</div>
<div class="t ar" style="left:923px;top:72px;width:25px;height:17px;line-height:17px">69</div>
<div class="t ar" style="left:867px;top:89px;width:25px;height:17px;line-height:17px">66</div>
<div class="t ar" style="left:895px;top:89px;width:25px;height:17px;line-height:17px">19</div>
<div class="t ar" style="left:923px;top:89px;width:25px;height:17px;line-height:17px">85</div>
<div class="t ar" style="left:867px;top:106px;width:25px;height:17px;line-height:17px">50</div>
<div class="t ar" style="left:895px;top:106px;width:25px;height:17px;line-height:17px">18</div>
<div class="t ar" style="left:923px;top:106px;width:25px;height:17px;line-height:17px">68</div>
<div class="t ar" style="left:867px;top:123px;width:25px;height:17px;line-height:17px">53</div>
<div class="t ar" style="left:895px;top:123px;width:25px;height:17px;line-height:17px">18</div>
<div class="t ar" style="left:923px;top:123px;width:25px;height:17px;line-height:17px">71</div>
<div class="t ar" style="left:867px;top:140px;width:25px;height:17px;line-height:17px">62</div>
<div class="t ar" style="left:895px;top:140px;width:25px;height:17px;line-height:17px">18</div>
<div class="t ar" style="left:923px;top:140px;width:25px;height:17px;line-height:17px">80</div>
<div class="t ar" style="left:867px;top:174px;width:25px;height:17px;line-height:17px">52</div>
<div class="t ar" style="left:895px;top:174px;width:25px;height:17px;line-height:17px">24</div>
<div class="t ar" style="left:923px;top:174px;width:25px;height:17px;line-height:17px">76</div>
<div class="t ar" style="left:867px;top:191px;width:25px;height:17px;line-height:17px">63</div>
<div class="t ar" style="left:895px;top:191px;width:25px;height:17px;line-height:17px">18</div>
<div class="t ar" style="left:923px;top:191px;width:25px;height:17px;line-height:17px">81</div>
<div class="t ar red" style="left:867px;top:276px;width:25px;height:17px;line-height:17px">73</div>
<div class="t ar red" style="left:895px;top:276px;width:25px;height:17px;line-height:17px">31</div>
<div class="t ar red" style="left:923px;top:276px;width:25px;height:17px;line-height:17px">104</div>
<div class="t ar" style="left:867px;top:327px;width:25px;height:17px;line-height:17px">42</div>
<div class="t ar" style="left:895px;top:327px;width:25px;height:17px;line-height:17px">10</div>
<div class="t ar" style="left:923px;top:327px;width:25px;height:17px;line-height:17px">52</div>
<div class="t al" style="left:869px;top:397px;width:26px;height:20px;line-height:20px">TFL</div>
<div class="t ar" style="left:895px;top:397px;width:25px;height:20px;line-height:20px">346</div>
<div class="t ar" style="left:923px;top:397px;width:25px;height:20px;line-height:20px">517</div>
<div class="t al" style="left:869px;top:416px;width:26px;height:17px;line-height:17px">FNS</div>
<div class="t ar" style="left:895px;top:416px;width:25px;height:18px;line-height:18px">431</div>
<div class="t ar" style="left:7px;top:54px;width:18px;height:18px;line-height:18px">1</div>
<div class="t al n" style="left:30px;top:54px;width:81px;height:18px;line-height:18px">Cato</div>
<div class="t al n" style="left:1260px;top:54px;width:66px;height:18px;line-height:18px">Cato</div>
<div class="t ar d" style="left:1035px;top:54px;width:47px;height:18px;line-height:18px">56,5</div>
<div class="t ar d" style="left:1085px;top:54px;width:38px;height:18px;line-height:18px">16,0</div>
<div class="t ar d" style="left:1126px;top:54px;width:39px;height:18px;line-height:18px">76,2</div>
<div class="t ac" style="left:1235px;top:54px;width:22px;height:18px;line-height:18px">2</div>
<div class="t ar" style="left:1326px;top:54px;width:71px;height:18px;line-height:18px">381</div>
<div class="t ar" style="left:7px;top:72px;width:18px;height:17px;line-height:17px">2</div>
<div class="t al n" style="left:30px;top:72px;width:81px;height:17px;line-height:17px">Gehpunkt</div>
<div class="t al n" style="left:1260px;top:72px;width:66px;height:17px;line-height:17px">Gehpunkt</div>
<div class="t ar d" style="left:1035px;top:72px;width:47px;height:17px;line-height:17px">64,7</div>
<div class="t ar d" style="left:1085px;top:72px;width:38px;height:17px;line-height:17px">16,9</div>
<div class="t ar d" style="left:1126px;top:72px;width:39px;height:17px;line-height:17px">80,0</div>
<div class="t ac" style="left:1168px;top:72px;width:22px;height:17px;line-height:17px">2</div>
<div class="t ac" style="left:1213px;top:72px;width:21px;height:17px;line-height:17px">1</div>
<div class="t ac" style="left:1235px;top:72px;width:22px;height:17px;line-height:17px">4</div>
<div class="t ar" style="left:1326px;top:72px;width:71px;height:17px;line-height:17px">640</div>
<div class="t ar" style="left:7px;top:89px;width:18px;height:17px;line-height:17px">3</div>
<div class="t al n" style="left:30px;top:89px;width:81px;height:17px;line-height:17px">Gerd</div>
<div class="t al n" style="left:1260px;top:89px;width:66px;height:17px;line-height:17px">Gerd</div>
<div class="t ar d" style="left:1035px;top:89px;width:47px;height:17px;line-height:17px">65,5</div>
<div class="t ar d" style="left:1085px;top:89px;width:38px;height:17px;line-height:17px">20,0</div>
<div class="t ar d" style="left:1126px;top:89px;width:39px;height:17px;line-height:17px">84,5</div>
<div class="t ac" style="left:1235px;top:89px;width:22px;height:17px;line-height:17px">1</div>
<div class="t ar" style="left:1326px;top:89px;width:71px;height:17px;line-height:17px">236</div>
<div class="t ar" style="left:7px;top:106px;width:18px;height:17px;line-height:17px">4</div>
<div class="t al n" style="left:30px;top:106px;width:81px;height:17px;line-height:17px">Hobi</div>
<div class="t al n" style="left:1260px;top:106px;width:66px;height:17px;line-height:17px">Hobi</div>
<div class="t ar d" style="left:1035px;top:106px;width:47px;height:17px;line-height:17px">68,3</div>
<div class="t ar d" style="left:1085px;top:106px;width:38px;height:17px;line-height:17px">15,5</div>
<div class="t ar d" style="left:1126px;top:106px;width:39px;height:17px;line-height:17px">81,6</div>
<div class="t ac" style="left:1168px;top:106px;width:22px;height:17px;line-height:17px">2</div>
<div class="t ac" style="left:1235px;top:106px;width:22px;height:17px;line-height:17px">2</div>
<div class="t ar" style="left:1326px;top:106px;width:71px;height:17px;line-height:17px">571</div>
<div class="t ar" style="left:7px;top:123px;width:18px;height:17px;line-height:17px">5</div>
<div class="t al n" style="left:30px;top:123px;width:81px;height:17px;line-height:17px">Hörbi</div>
<div class="t al n" style="left:1260px;top:123px;width:66px;height:17px;line-height:17px">Hörbi</div>
<div class="t ar d" style="left:1035px;top:123px;width:47px;height:17px;line-height:17px">56,3</div>
<div class="t ar d" style="left:1085px;top:123px;width:38px;height:17px;line-height:17px">24,5</div>
<div class="t ar d" style="left:1126px;top:123px;width:39px;height:17px;line-height:17px">74,7</div>
<div class="t ac" style="left:1191px;top:123px;width:21px;height:17px;line-height:17px">1</div>
<div class="t ac" style="left:1235px;top:123px;width:22px;height:17px;line-height:17px">1</div>
<div class="t ar" style="left:1326px;top:123px;width:71px;height:17px;line-height:17px">289</div>
<div class="t ar" style="left:7px;top:140px;width:18px;height:17px;line-height:17px">6</div>
<div class="t al n" style="left:30px;top:140px;width:81px;height:17px;line-height:17px">Kauli</div>
<div class="t al n" style="left:1260px;top:140px;width:66px;height:17px;line-height:17px">Kauli</div>
<div class="t ar d" style="left:1035px;top:140px;width:47px;height:17px;line-height:17px">56,7</div>
<div class="t ar d" style="left:1085px;top:140px;width:38px;height:17px;line-height:17px">16,3</div>
<div class="t ar d" style="left:1126px;top:140px;width:39px;height:17px;line-height:17px">74,0</div>
<div class="t ac" style="left:1191px;top:140px;width:21px;height:17px;line-height:17px">1</div>
<div class="t ac" style="left:1235px;top:140px;width:22px;height:17px;line-height:17px">3</div>
<div class="t ar" style="left:1326px;top:140px;width:71px;height:17px;line-height:17px">575</div>
<div class="t ar" style="left:7px;top:157px;width:18px;height:17px;line-height:17px">7</div>
<div class="t al n" style="left:30px;top:157px;width:81px;height:17px;line-height:17px">Hoschi</div>
<div class="t al n" style="left:1260px;top:157px;width:66px;height:17px;line-height:17px">Hoschi</div>
<div class="t ar" style="left:1326px;top:157px;width:71px;height:17px;line-height:17px">0</div>
<div class="t ar" style="left:7px;top:174px;width:18px;height:17px;line-height:17px">8</div>
<div class="t al n" style="left:30px;top:174px;width:81px;height:17px;line-height:17px">Kette</div>
<div class="t al n" style="left:1260px;top:174px;width:66px;height:17px;line-height:17px">Kette</div>
<div class="t ar d" style="left:1035px;top:174px;width:47px;height:17px;line-height:17px">62,5</div>
<div class="t ar d" style="left:1085px;top:174px;width:38px;height:17px;line-height:17px">19,6</div>
<div class="t ar d" style="left:1126px;top:174px;width:39px;height:17px;line-height:17px">82,2</div>
<div class="t ac" style="left:1168px;top:174px;width:22px;height:17px;line-height:17px">1</div>
<div class="t ac" style="left:1191px;top:174px;width:21px;height:17px;line-height:17px">2</div>
<div class="t ac" style="left:1213px;top:174px;width:21px;height:17px;line-height:17px">2</div>
<div class="t ac" style="left:1235px;top:174px;width:22px;height:17px;line-height:17px">1</div>
<div class="t ar" style="left:1326px;top:174px;width:71px;height:17px;line-height:17px">549</div>
<div class="t ar" style="left:7px;top:191px;width:18px;height:17px;line-height:17px">9</div>
<div class="t al n" style="left:30px;top:191px;width:81px;height:17px;line-height:17px">Mao</div>
<div class="t al n" style="left:1260px;top:191px;width:66px;height:17px;line-height:17px">Mao</div>
<div class="t ar d" style="left:1035px;top:191px;width:47px;height:17px;line-height:17px">72,7</div>
<div class="t ar d" style="left:1085px;top:191px;width:38px;height:17px;line-height:17px">24,0</div>
<div class="t ar d" style="left:1126px;top:191px;width:39px;height:17px;line-height:17px">91,3</div>
<div class="t ac" style="left:1168px;top:191px;width:22px;height:17px;line-height:17px">2</div>
<div class="t ac" style="left:1191px;top:191px;width:21px;height:17px;line-height:17px">1</div>
<div class="t ac" style="left:1213px;top:191px;width:21px;height:17px;line-height:17px">2</div>
<div class="t ac" style="left:1235px;top:191px;width:22px;height:17px;line-height:17px">1</div>
<div class="t ar" style="left:1326px;top:191px;width:71px;height:17px;line-height:17px">347</div>
<div class="t ar" style="left:7px;top:208px;width:18px;height:17px;line-height:17px">10</div>
<div class="t al n" style="left:30px;top:208px;width:81px;height:17px;line-height:17px">Mölle</div>
<div class="t al n" style="left:1260px;top:208px;width:66px;height:17px;line-height:17px">Mölle</div>
<div class="t ar d" style="left:1035px;top:208px;width:47px;height:17px;line-height:17px">62,2</div>
<div class="t ar d" style="left:1085px;top:208px;width:38px;height:17px;line-height:17px">24,0</div>
<div class="t ar d" style="left:1126px;top:208px;width:39px;height:17px;line-height:17px">86,2</div>
<div class="t ac" style="left:1168px;top:208px;width:22px;height:17px;line-height:17px">1</div>
<div class="t ac" style="left:1191px;top:208px;width:21px;height:17px;line-height:17px">1</div>
<div class="t ac" style="left:1235px;top:208px;width:22px;height:17px;line-height:17px">1</div>
<div class="t ar" style="left:1326px;top:208px;width:71px;height:17px;line-height:17px">431</div>
<div class="t ar" style="left:7px;top:225px;width:18px;height:17px;line-height:17px">11</div>
<div class="t al n" style="left:30px;top:225px;width:81px;height:17px;line-height:17px">Moppel</div>
<div class="t al n" style="left:1260px;top:225px;width:66px;height:17px;line-height:17px">Moppel</div>
<div class="t ar" style="left:1326px;top:225px;width:71px;height:17px;line-height:17px">0</div>
<div class="t ar" style="left:7px;top:242px;width:18px;height:17px;line-height:17px">12</div>
<div class="t al n" style="left:30px;top:242px;width:81px;height:17px;line-height:17px">Poma</div>
<div class="t al n" style="left:1260px;top:242px;width:66px;height:17px;line-height:17px">Poma</div>
<div class="t ar d" style="left:1035px;top:242px;width:47px;height:17px;line-height:17px">67,5</div>
<div class="t ar d" style="left:1085px;top:242px;width:38px;height:17px;line-height:17px">22,5</div>
<div class="t ar d" style="left:1126px;top:242px;width:39px;height:17px;line-height:17px">90,0</div>
<div class="t ac" style="left:1168px;top:242px;width:22px;height:17px;line-height:17px">1</div>
<div class="t ac" style="left:1213px;top:242px;width:21px;height:17px;line-height:17px">1</div>
<div class="t ac" style="left:1235px;top:242px;width:22px;height:17px;line-height:17px">1</div>
<div class="t ar" style="left:1326px;top:242px;width:71px;height:17px;line-height:17px">180</div>
<div class="t ar" style="left:7px;top:259px;width:18px;height:17px;line-height:17px">13</div>
<div class="t al n" style="left:30px;top:259px;width:81px;height:17px;line-height:17px">Porno</div>
<div class="t al n" style="left:1260px;top:259px;width:66px;height:17px;line-height:17px">Porno</div>
<div class="t ar" style="left:1326px;top:259px;width:71px;height:17px;line-height:17px">0</div>
<div class="t ar" style="left:7px;top:276px;width:18px;height:17px;line-height:17px">14</div>
<div class="t al n" style="left:30px;top:276px;width:81px;height:17px;line-height:17px">Ralf</div>
<div class="t al n" style="left:1260px;top:276px;width:66px;height:17px;line-height:17px">Ralf</div>
<div class="t ar d" style="left:1035px;top:276px;width:47px;height:17px;line-height:17px">67,0</div>
<div class="t ar d" style="left:1085px;top:276px;width:38px;height:17px;line-height:17px">29,3</div>
<div class="t ar d" style="left:1126px;top:276px;width:39px;height:17px;line-height:17px">100,8</div>
<div class="t ac" style="left:1168px;top:276px;width:22px;height:17px;line-height:17px">2</div>
<div class="t ac" style="left:1191px;top:276px;width:21px;height:17px;line-height:17px">1</div>
<div class="t ac" style="left:1213px;top:276px;width:21px;height:17px;line-height:17px">3</div>
<div class="t ac" style="left:1235px;top:276px;width:22px;height:17px;line-height:17px">3</div>
<div class="t ar" style="left:1326px;top:276px;width:71px;height:17px;line-height:17px">460</div>
<div class="t ar" style="left:7px;top:293px;width:18px;height:17px;line-height:17px">15</div>
<div class="t al n" style="left:30px;top:293px;width:81px;height:17px;line-height:17px">Scholle</div>
<div class="t al n" style="left:1260px;top:293px;width:66px;height:17px;line-height:17px">Scholle</div>
<div class="t ar d" style="left:1035px;top:293px;width:47px;height:17px;line-height:17px">56,0</div>
<div class="t ar d" style="left:1085px;top:293px;width:38px;height:17px;line-height:17px">11,5</div>
<div class="t ar d" style="left:1126px;top:293px;width:39px;height:17px;line-height:17px">67,5</div>
<div class="t ar" style="left:1326px;top:293px;width:71px;height:17px;line-height:17px">135</div>
<div class="t ar" style="left:7px;top:310px;width:18px;height:17px;line-height:17px">16</div>
<div class="t al n" style="left:30px;top:310px;width:81px;height:17px;line-height:17px">Schorsch</div>
<div class="t al n" style="left:1260px;top:310px;width:66px;height:17px;line-height:17px">Schorsch</div>
<div class="t ar d" style="left:1035px;top:310px;width:47px;height:17px;line-height:17px">60,6</div>
<div class="t ar d" style="left:1085px;top:310px;width:38px;height:17px;line-height:17px">20,7</div>
<div class="t ar d" style="left:1126px;top:310px;width:39px;height:17px;line-height:17px">82,0</div>
<div class="t ac" style="left:1191px;top:310px;width:21px;height:17px;line-height:17px">2</div>
<div class="t ac" style="left:1213px;top:310px;width:21px;height:17px;line-height:17px">1</div>
<div class="t ac" style="left:1235px;top:310px;width:22px;height:17px;line-height:17px">1</div>
<div class="t ar" style="left:1326px;top:310px;width:71px;height:17px;line-height:17px">548</div>
<div class="t ar" style="left:7px;top:327px;width:18px;height:17px;line-height:17px">17</div>
<div class="t al n" style="left:30px;top:327px;width:81px;height:17px;line-height:17px">Schröder</div>
<div class="t al n" style="left:1260px;top:327px;width:66px;height:17px;line-height:17px">Schröder</div>
<div class="t ar d" style="left:1035px;top:327px;width:47px;height:17px;line-height:17px">61,3</div>
<div class="t ar d" style="left:1085px;top:327px;width:38px;height:17px;line-height:17px">21,0</div>
<div class="t ar d" style="left:1126px;top:327px;width:39px;height:17px;line-height:17px">74,7</div>
<div class="t ac" style="left:1235px;top:327px;width:22px;height:17px;line-height:17px">1</div>
<div class="t ar" style="left:1326px;top:327px;width:71px;height:17px;line-height:17px">278</div>
<div class="t ar" style="left:7px;top:344px;width:18px;height:17px;line-height:17px">18</div>
<div class="t al n" style="left:30px;top:344px;width:81px;height:17px;line-height:17px">Ulf</div>
<div class="t al n" style="left:1260px;top:344px;width:66px;height:17px;line-height:17px">Ulf</div>
<div class="t ar d" style="left:1035px;top:344px;width:47px;height:17px;line-height:17px">69,2</div>
<div class="t ar d" style="left:1085px;top:344px;width:38px;height:17px;line-height:17px">22,0</div>
<div class="t ar d" style="left:1126px;top:344px;width:39px;height:17px;line-height:17px">91,8</div>
<div class="t ac" style="left:1235px;top:344px;width:22px;height:17px;line-height:17px">2</div>
<div class="t ar" style="left:1326px;top:344px;width:71px;height:17px;line-height:17px">434</div>
<div class="t ar" style="left:7px;top:361px;width:18px;height:17px;line-height:17px">19</div>
<div class="t al n" style="left:30px;top:361px;width:81px;height:17px;line-height:17px">Webbel</div>
<div class="t al n" style="left:1260px;top:361px;width:66px;height:17px;line-height:17px">Webbel</div>
<div class="t ar d" style="left:1035px;top:361px;width:47px;height:17px;line-height:17px">36,7</div>
<div class="t ar d" style="left:1085px;top:361px;width:38px;height:17px;line-height:17px">13,5</div>
<div class="t ar d" style="left:1126px;top:361px;width:39px;height:17px;line-height:17px">45,5</div>
<div class="t ac" style="left:1235px;top:361px;width:22px;height:17px;line-height:17px">1</div>
<div class="t ar" style="left:1326px;top:361px;width:71px;height:17px;line-height:17px">137</div>
<div class="t al n" style="left:30px;top:378px;width:81px;height:17px;line-height:17px">Gastkegler</div>
<div class="t ar d" style="left:1035px;top:397px;width:47px;height:20px;line-height:20px">61,5</div>
<div class="t ar d" style="left:1085px;top:397px;width:38px;height:20px;line-height:20px">19,8</div>
<div class="t ar d" style="left:1126px;top:397px;width:39px;height:20px;line-height:20px">80,2</div>
<div class="t ar" style="left:1326px;top:397px;width:71px;height:20px;line-height:20px">6054</div>
<div class="t h" style="left:28px;top:36px;width:81px;height:16px;line-height:16px">Die Jungs</div>
<div class="t h" style="left:111px;top:36px;width:84px;height:16px;line-height:16px">18.01.2025</div>
<div class="t h" style="left:195px;top:36px;width:84px;height:16px;line-height:16px">15.02.2025</div>
<div class="t h" style="left:279px;top:36px;width:84px;height:16px;line-height:16px">15.03.2025</div>
<div class="t h" style="left:363px;top:36px;width:84px;height:16px;line-height:16px">12.04.2025</div>
<div class="t h" style="left:447px;top:36px;width:84px;height:16px;line-height:16px">10.05.2025</div>
<div class="t h" style="left:531px;top:36px;width:84px;height:16px;line-height:16px">07.06.2025</div>
<div class="t h" style="left:615px;top:36px;width:84px;height:16px;line-height:16px">05.07.2025</div>
<div class="t h" style="left:699px;top:36px;width:84px;height:16px;line-height:16px">30.08.2025</div>
<div class="t h" style="left:783px;top:36px;width:84px;height:16px;line-height:16px">27.09.2025</div>
<div class="t h" style="left:867px;top:36px;width:84px;height:16px;line-height:16px">25.10.2025</div>
<div class="t h" style="left:1035px;top:36px;width:132px;height:16px;line-height:16px">Schnitt</div>
<div class="t h" style="left:1168px;top:36px;width:66px;height:16px;line-height:16px">Siege</div>
<div class="t h" style="left:1235px;top:36px;width:22px;height:16px;line-height:16px;font-size:11.6px">TW</div>
<div class="t h" style="left:1258px;top:36px;width:67px;height:16px;line-height:16px">Die Jungs</div>
<div class="t h" style="left:1326px;top:36px;width:73px;height:16px;line-height:16px">Megaholz</div>
</div></body></html>
